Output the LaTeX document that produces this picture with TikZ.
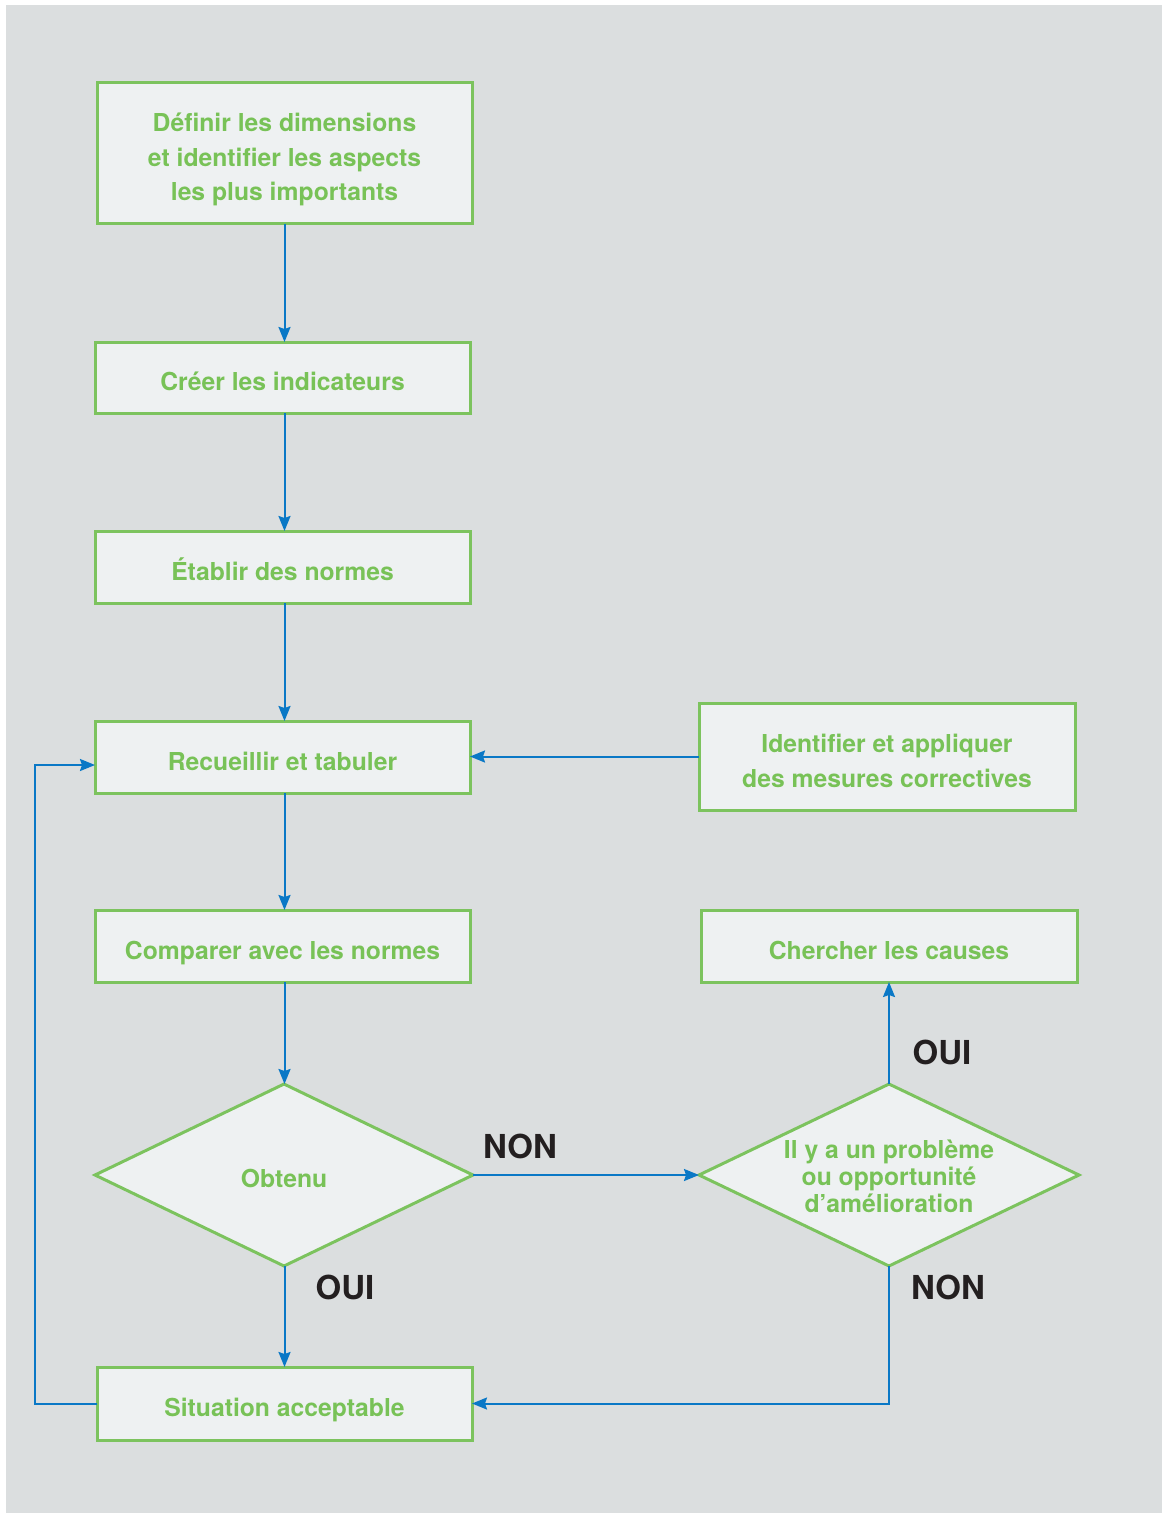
\documentclass[tikz,border=0pt]{standalone}
\usepackage{fontspec}
\setmainfont{TeX Gyre Heros}
\usetikzlibrary{shapes.geometric,arrows.meta}
\definecolor{bggray}{HTML}{DBDEDF}
\definecolor{boxfill}{HTML}{EEF1F2}
\definecolor{boxgreen}{HTML}{7CC35E}
\definecolor{txtgreen}{HTML}{78C257}
\definecolor{arrblue}{HTML}{0A78C6}
\definecolor{lblblack}{HTML}{231F20}
\tikzset{
  stepbox/.style={draw=boxgreen, line width=3pt, fill=boxfill, rectangle, inner sep=0pt, outer sep=0pt},
  steptext/.style={text=txtgreen, font=\fontsize{24.7}{34.5}\selectfont\bfseries, align=center,
    inner sep=0pt, text height=18pt, text depth=0pt, yshift=-4pt},
  steptextml/.style={text=txtgreen, font=\fontsize{24.7}{34.5}\selectfont\bfseries, align=center,
    inner sep=0pt, yshift=-4.5pt},
  decbox/.style={draw=boxgreen, line width=3pt, fill=boxfill, diamond, inner sep=0pt, outer sep=0pt},
  dectext/.style={text=txtgreen, font=\fontsize{24.7}{27}\selectfont\bfseries, align=center, inner sep=0pt},
  arr/.style={draw=arrblue, line width=2pt, -{Stealth[length=15pt, width=12pt, inset=2pt]}},
  lbl/.style={text=lblblack, font=\fontsize{33}{36}\selectfont\bfseries, inner sep=0pt}
}
\begin{document}
\begin{tikzpicture}[x=1pt, y=-1pt]
\useasboundingbox (0,0) rectangle (1162,1513);
\fill[bggray] (6,5) rectangle (1162,1513);

\node[stepbox, minimum width=375pt, minimum height=141pt] (b1) at (284.5,153) {};
\node[steptextml, yshift=-2pt] (t1) at (b1.center) {Définir les dimensions\\et identifier les aspects\\les plus importants};
\node[stepbox, minimum width=375pt, minimum height=71pt] (b2) at (282.5,377.5) {};
\node[steptext] (t2) at (b2.center) {Créer les indicateurs};
\node[stepbox, minimum width=375pt, minimum height=72pt] (b3) at (282.5,567) {};
\node[steptext] (t3) at (b3.center) {Établir des normes};
\node[stepbox, minimum width=375pt, minimum height=72pt] (b4) at (282.5,757) {};
\node[steptext] (t4) at (b4.center) {Recueillir et tabuler};
\node[stepbox, minimum width=376pt, minimum height=107pt] (b5) at (887,756.5) {};
\node[steptextml] (t5) at (b5.center) {Identifier et appliquer\\des mesures correctives};
\node[stepbox, minimum width=375pt, minimum height=72pt] (b6) at (282.5,946) {};
\node[steptext] (t6) at (b6.center) {Comparer avec les normes};
\node[stepbox, minimum width=376pt, minimum height=72pt] (b7) at (889,946) {};
\node[steptext] (t7) at (b7.center) {Chercher les causes};
\node[decbox, minimum width=378pt, minimum height=182pt] (d1) at (284,1175) {};
\node[dectext, yshift=-3pt] (td1) at (d1.center) {Obtenu};
\node[decbox, minimum width=380pt, minimum height=182pt] (d2) at (889,1175) {};
\node[dectext] (td2) at (889,1176) {Il y a un problème\\ou opportunité\\d’amélioration};
\node[stepbox, minimum width=375pt, minimum height=73pt] (b8) at (284.5,1403.5) {};
\node[steptext] (t8) at (b8.center) {Situation acceptable};

\draw[arr] (b1.south) -- (b1.south |- b2.north);
\draw[arr] (b2.south -| b1.south) -- (b1.south |- b3.north);
\draw[arr] (b3.south -| b1.south) -- (b1.south |- b4.north);
\draw[arr] (b4.south -| b1.south) -- (b1.south |- b6.north);
\draw[arr] (b6.south -| b1.south) -- (b1.south |- d1.north);
\draw[arr] (d1.south -| b1.south) -- (b1.south |- b8.north);
\draw[arr] (b5.west) -- (b5.west -| b4.east);
\draw[arr] (b8.west) -- ++(-62,0) coordinate (lc) |- ([yshift=-8pt]b4.west);
\draw[arr] (d1.east) -- (d2.west);
\draw[arr] (d2.north) -- (d2.north |- b7.south);
\draw[arr] (d2.south) |- (b8.east);

\node[lbl] (lnon1) at (520,1146) {NON};
\node[lbl] (loui1) at (942,1052) {OUI};
\node[lbl] (lnon2) at (948,1287) {NON};
\node[lbl] (loui2) at (345,1287) {OUI};
\end{tikzpicture}
\end{document}
